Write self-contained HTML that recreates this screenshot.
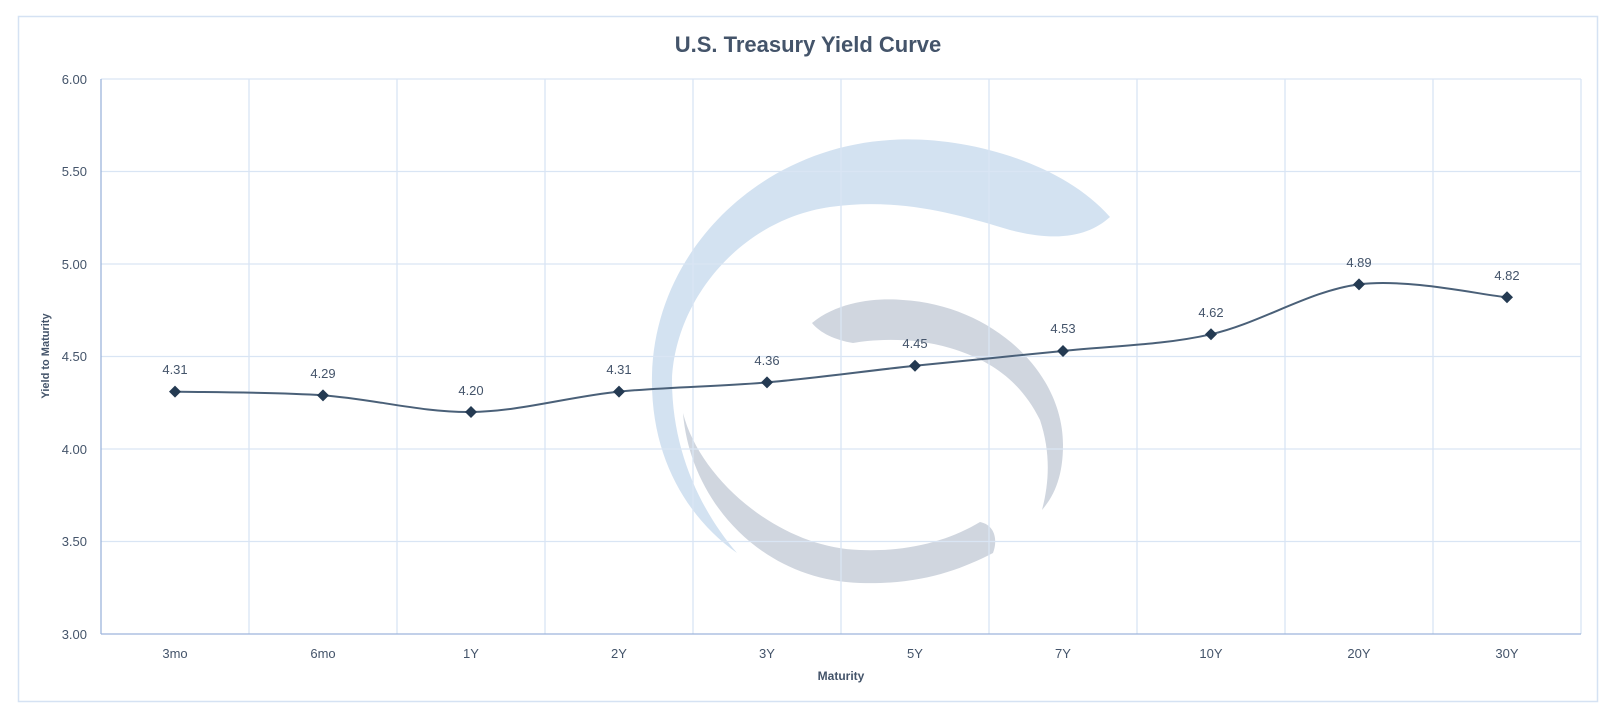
<!DOCTYPE html>
<html><head><meta charset="utf-8"><style>
html,body{margin:0;padding:0;background:#fff;}
svg{display:block;}
text{font-family:"Liberation Sans",sans-serif;fill:#44546a;}
</style></head><body>
<svg width="1616" height="724" viewBox="0 0 1616 724" xmlns="http://www.w3.org/2000/svg">
<rect x="18.5" y="16.5" width="1579" height="685" fill="#fff" stroke="#d5e2f3" stroke-width="1.5"/>
<!-- watermark -->
<path d="M1110,217 C1060,160 960,135 890,140 C760,148 655,250 652,375 C650,460 690,520 737,553 C700,510 672,450 672,380 C675,300 740,220 830,207 C900,197 960,215 1010,230 C1060,243 1090,235 1110,217 Z" fill="#d3e2f1"/>
<path d="M812,323 C840,300 880,298 903,300 C990,305 1063,370 1063,445 C1063,475 1055,495 1042,510 C1050,480 1050,450 1040,420 C1020,380 990,360 950,348 C910,336 870,340 853,343 C835,340 820,333 812,323 Z" fill="#d0d6df"/>
<path d="M683,413 C690,500 760,580 860,583 C920,585 960,570 993,553 C998,540 995,525 980,522 C950,540 910,552 860,550 C780,548 700,480 683,413 Z" fill="#d0d6df"/>
<!-- grid -->
<g stroke="#d9e5f4" stroke-width="1.3" fill="none">
<line x1="101" y1="79" x2="1581" y2="79"/>
<line x1="101" y1="171.5" x2="1581" y2="171.5"/>
<line x1="101" y1="264" x2="1581" y2="264"/>
<line x1="101" y1="356.5" x2="1581" y2="356.5"/>
<line x1="101" y1="449" x2="1581" y2="449"/>
<line x1="101" y1="541.5" x2="1581" y2="541.5"/>
<line x1="249" y1="79" x2="249" y2="634"/>
<line x1="397" y1="79" x2="397" y2="634"/>
<line x1="545" y1="79" x2="545" y2="634"/>
<line x1="693" y1="79" x2="693" y2="634"/>
<line x1="841" y1="79" x2="841" y2="634"/>
<line x1="989" y1="79" x2="989" y2="634"/>
<line x1="1137" y1="79" x2="1137" y2="634"/>
<line x1="1285" y1="79" x2="1285" y2="634"/>
<line x1="1433" y1="79" x2="1433" y2="634"/>
<line x1="1581" y1="79" x2="1581" y2="634"/>
</g>
<g stroke="#9db5dc" stroke-width="1.3">
<line x1="101" y1="79" x2="101" y2="634"/>
<line x1="101" y1="634" x2="1581" y2="634"/>
</g>
<text x="808" y="52" text-anchor="middle" font-size="22" font-weight="bold" style="fill:#44546a">U.S. Treasury Yield Curve</text>
<g font-size="13" text-anchor="end">
<text x="87" y="84">6.00</text>
<text x="87" y="176">5.50</text>
<text x="87" y="269">5.00</text>
<text x="87" y="361">4.50</text>
<text x="87" y="454">4.00</text>
<text x="87" y="546">3.50</text>
<text x="87" y="639">3.00</text>
</g>
<g font-size="13" text-anchor="middle">
<text x="175" y="658">3mo</text>
<text x="323" y="658">6mo</text>
<text x="471" y="658">1Y</text>
<text x="619" y="658">2Y</text>
<text x="767" y="658">3Y</text>
<text x="915" y="658">5Y</text>
<text x="1063" y="658">7Y</text>
<text x="1211" y="658">10Y</text>
<text x="1359" y="658">20Y</text>
<text x="1507" y="658">30Y</text>
</g>
<text x="841" y="680" text-anchor="middle" font-size="12" font-weight="bold">Maturity</text>
<text transform="translate(49,356) rotate(-90)" text-anchor="middle" font-size="11" font-weight="bold">Yield to Maturity</text>
<path d="M175,391.65 C199.7,392.27 273.7,391.96 323,395.35 C372.3,398.74 421.7,412.62 471,412 C520.3,411.38 569.7,396.58 619,391.65 C668.3,386.72 717.7,386.72 767,382.4 C816.3,378.08 865.7,370.99 915,365.75 C964.3,360.51 1013.7,356.19 1063,350.95 C1112.3,345.71 1161.7,345.4 1211,334.3 C1260.3,323.2 1309.7,290.52 1359,284.35 C1408.3,278.18 1482.3,295.14 1507,297.3" fill="none" stroke="#4a6078" stroke-width="2"/>
<g fill="#243a52">
<path d="M175,385.65 l6,6 l-6,6 l-6,-6z"/>
<path d="M323,389.35 l6,6 l-6,6 l-6,-6z"/>
<path d="M471,406 l6,6 l-6,6 l-6,-6z"/>
<path d="M619,385.65 l6,6 l-6,6 l-6,-6z"/>
<path d="M767,376.4 l6,6 l-6,6 l-6,-6z"/>
<path d="M915,359.75 l6,6 l-6,6 l-6,-6z"/>
<path d="M1063,344.95 l6,6 l-6,6 l-6,-6z"/>
<path d="M1211,328.3 l6,6 l-6,6 l-6,-6z"/>
<path d="M1359,278.35 l6,6 l-6,6 l-6,-6z"/>
<path d="M1507,291.3 l6,6 l-6,6 l-6,-6z"/>
</g>
<g font-size="13" text-anchor="middle">
<text x="175" y="374">4.31</text>
<text x="323" y="378">4.29</text>
<text x="471" y="395">4.20</text>
<text x="619" y="374">4.31</text>
<text x="767" y="365">4.36</text>
<text x="915" y="348">4.45</text>
<text x="1063" y="333">4.53</text>
<text x="1211" y="317">4.62</text>
<text x="1359" y="267">4.89</text>
<text x="1507" y="280">4.82</text>
</g>
</svg>
</body></html>
